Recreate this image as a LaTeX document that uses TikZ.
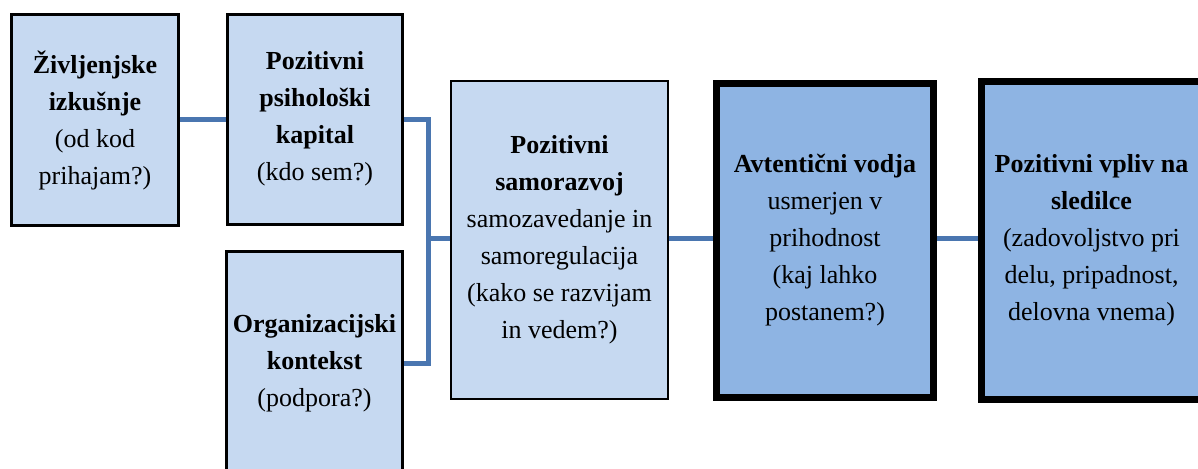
\documentclass[tikz,border=0pt]{standalone}
\usepackage{fontspec}
\setmainfont{Liberation Serif}
\definecolor{boxlight}{HTML}{C6D9F1}
\definecolor{boxdark}{HTML}{8EB4E3}
\definecolor{linkblue}{HTML}{4A76B0}
\begin{document}
\begin{tikzpicture}[x=0.5pt, y=-0.5pt,
    box/.style={draw=black, line width=1.5pt, fill=boxlight, inner sep=0pt, align=center,
        font=\fontsize{13}{18.5}\selectfont},
    keybox/.style={box, line width=3.5pt, fill=boxdark},
    conn/.style={draw=linkblue, line width=2.5pt}]
    \useasboundingbox (0,0) rectangle (1198,468);

    % Left column
    \node[box, minimum width=83.5pt, minimum height=105.5pt] (zivljenje) at (95,120)
        {\textbf{Življenjske}\\\textbf{izkušnje}\\(od kod\\prihajam?)};
    \node[box, minimum width=87.5pt, minimum height=105pt] (kapital) at (315,119)
        {\textbf{Pozitivni}\\\textbf{psihološki}\\\textbf{kapital}\\(kdo sem?)};
    \node[box, minimum width=88pt, minimum height=111.5pt] (kontekst) at (314.5,363)
        {\textbf{Organizacijski}\\\textbf{kontekst}\\(podpora?)};

    % Middle and right
    \node[box, line width=1.3pt, minimum width=108.5pt, minimum height=159pt] (samorazvoj) at (559.5,240)
        {\textbf{Pozitivni}\\\textbf{samorazvoj}\\samozavedanje in\\samoregulacija\\(kako se razvijam\\in vedem?)};
    \node[keybox, minimum width=108.5pt, minimum height=157pt] (vodja) at (825,240)
        {\textbf{Avtentični vodja}\\usmerjen v\\prihodnost\\(kaj lahko\\postanem?)};
    \node[keybox, minimum width=110pt, minimum height=159pt] (vpliv) at (1091.5,240)
        {\textbf{Pozitivni vpliv na}\\\textbf{sledilce}\\(zadovoljstvo pri\\delu, pripadnost,\\delovna vnema)};

    % Connectors
    \coordinate (stik) at (428,238);
    \draw[conn] (zivljenje.east |- kapital.west) -- (kapital.west);
    \draw[conn] (kapital.east) -| (stik) |- (kontekst.east);
    \draw[conn] (stik) -- (stik -| samorazvoj.west);
    \draw[conn] (samorazvoj.east |- stik) -- (vodja.west |- stik);
    \draw[conn] (vodja.east |- stik) -- (vpliv.west |- stik);
\end{tikzpicture}
\end{document}
